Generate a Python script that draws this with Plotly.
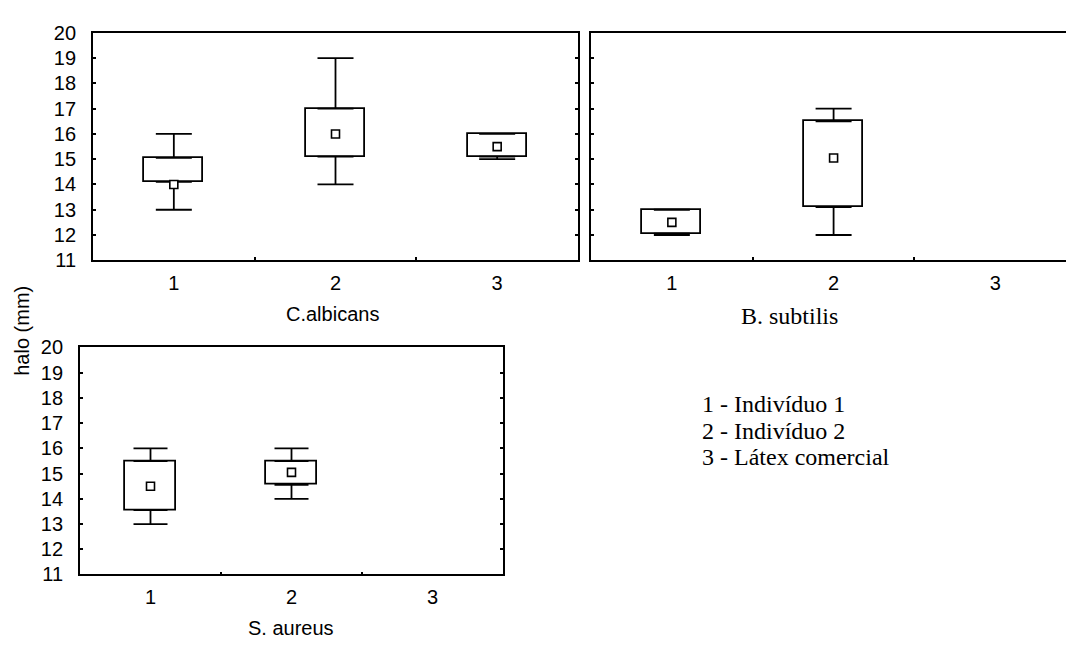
import plotly.graph_objects as go

# ---- data ----
categories = [1, 2, 3]
tick_labels = ["1", "2", "3"]

# C. albicans
ca_x = [1, 2, 3]
ca_min = [13.0, 14.0, 15.0]
ca_q1 = [14.1, 15.1, 15.1]
ca_med = [14.0, 16.0, 15.5]
ca_q3 = [15.05, 17.0, 16.0]
ca_max = [16.0, 19.0, 16.0]

# B. subtilis
bs_x = [1, 2]
bs_min = [12.0, 12.0]
bs_q1 = [12.05, 13.1]
bs_med = [12.5, 15.05]
bs_q3 = [13.0, 16.5]
bs_max = [13.0, 17.0]

# S. aureus
sa_x = [1, 2]
sa_min = [13.0, 14.0]
sa_q1 = [13.55, 14.55]
sa_med = [14.5, 15.05]
sa_q3 = [15.5, 15.5]
sa_max = [16.0, 16.0]

y_title = "halo (mm)"
panel_titles = ["C.albicans", "B. subtilis", "S. aureus"]
legend_lines = ["1 - Indivíduo 1", "2 - Indivíduo 2", "3 - Látex comercial"]

W, H = 1066, 648
SANS = "Liberation Sans, Arial, sans-serif"
SERIF = "Liberation Serif, Times New Roman, serif"
LW = 1.8

fig = go.Figure()


def add_panel(xs, mn, q1, med, q3, mx, xa, ya, cap):
    fig.add_trace(go.Bar(
        x=xs, y=[b - a for a, b in zip(q1, q3)], base=q1, width=0.365,
        marker=dict(color="white", line=dict(color="black", width=LW)),
        xaxis=xa, yaxis=ya, showlegend=False, hoverinfo="skip"))
    # whiskers: upper from q3 to max, lower from q1 to min
    n = len(xs)
    fig.add_trace(go.Scatter(
        x=list(xs) + list(xs), y=list(q3) + list(q1), mode="markers",
        marker=dict(size=1, color="rgba(0,0,0,0)"),
        error_y=dict(type="data", symmetric=False,
                     array=[b - a for a, b in zip(q3, mx)] + [0] * n,
                     arrayminus=[0] * n + [a - b for a, b in zip(q1, mn)],
                     color="black", thickness=LW, width=cap),
        xaxis=xa, yaxis=ya, showlegend=False, hoverinfo="skip"))
    fig.add_trace(go.Scatter(
        x=xs, y=med, mode="markers",
        marker=dict(symbol="square", size=8, color="white",
                    line=dict(color="black", width=1.6)),
        xaxis=xa, yaxis=ya, showlegend=False, hoverinfo="skip"))


add_panel(ca_x, ca_min, ca_q1, ca_med, ca_q3, ca_max, "x", "y", 18)
add_panel(bs_x, bs_min, bs_q1, bs_med, bs_q3, bs_max, "x2", "y2", 18)
add_panel(sa_x, sa_min, sa_q1, sa_med, sa_q3, sa_max, "x3", "y3", 17)


def px_x(p):
    return p / W


def px_y(p):
    return 1 - p / H


tickfont = dict(family=SANS, size=20, color="black")
yticks = list(range(11, 21))

xcommon = dict(tickmode="array", tickvals=categories, ticktext=tick_labels,
               ticks="", showline=True, linecolor="black", linewidth=LW,
               showgrid=False, zeroline=False, tickfont=tickfont,
               ticklabelstandoff=4,
               minor=dict(tickmode="array", tickvals=[1.5, 2.5], ticks="inside",
                          ticklen=3, tickcolor="black", tickwidth=1.5))
ycommon = dict(range=[11, 20], tickmode="array", tickvals=yticks,
               ticks="inside", ticklen=3, tickwidth=1.5, tickcolor="black",
               showline=True, linecolor="black", linewidth=LW,
               showgrid=False, zeroline=False, tickfont=tickfont,
               ticklabelstandoff=11)

fig.update_layout(
    width=W, height=H, margin=dict(l=0, r=0, t=0, b=0),
    paper_bgcolor="white", plot_bgcolor="white", bargap=0,
    xaxis=dict(domain=[px_x(93), px_x(578)], range=[0.5, 3.5], anchor="y",
               mirror=True, **xcommon),
    yaxis=dict(domain=[px_y(258), px_y(22.7)], anchor="x", mirror="ticks",
               **ycommon),
    xaxis2=dict(domain=[px_x(591), 1.0], range=[0.5, 3.437], anchor="y2",
                mirror=True, **xcommon),
    yaxis2=dict(domain=[px_y(258), px_y(22.7)], anchor="x2", mirror=False,
                showticklabels=False, **ycommon),
    xaxis3=dict(domain=[px_x(80), px_x(503)], range=[0.5, 3.5], anchor="y3",
                mirror=True, **xcommon),
    yaxis3=dict(domain=[px_y(583.3), px_y(348.3)], anchor="x3", mirror="ticks",
                **ycommon),
)

ann = [
    dict(text=y_title, x=px_x(22), y=px_y(331), textangle=-90,
         font=dict(family=SANS, size=20)),
    dict(text=panel_titles[0], x=px_x(332), y=px_y(314),
         font=dict(family=SANS, size=20)),
    dict(text=panel_titles[1], x=px_x(789), y=px_y(316),
         font=dict(family=SERIF, size=24)),
    dict(text=panel_titles[2], x=px_x(291), y=px_y(639),
         font=dict(family=SANS, size=20)),
]
for i, line in enumerate(legend_lines):
    ann.append(dict(text=line, x=px_x(700), y=px_y(407 + 27.5 * i),
                    xanchor="left", font=dict(family=SERIF, size=24)))
for a in ann:
    a.setdefault("xanchor", "center")
    fig.add_annotation(xref="paper", yref="paper", showarrow=False,
                       yanchor="middle", font_color="black", **a)

fig.write_html("out.html")
